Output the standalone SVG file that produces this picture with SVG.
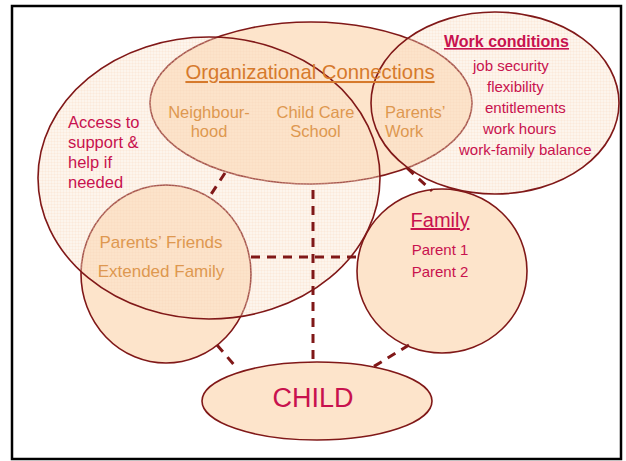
<svg xmlns="http://www.w3.org/2000/svg" width="626" height="461" viewBox="0 0 626 461">
<style>
.solid{fill:#FDE4CB;stroke:#801818;stroke-width:1.6}
.pat{fill:url(#grid);stroke:#801818;stroke-width:1.6}
.dash{stroke:#801818;stroke-width:3;stroke-dasharray:9 7;fill:none}
text{font-family:"Liberation Sans",Arial,sans-serif}
.red{fill:#C8124E}
.org{fill:#D67A2C}
.lor{fill:#DE9850}
</style>
<defs>
<pattern id="grid" width="3" height="3" patternUnits="userSpaceOnUse">
<rect width="3" height="3" fill="#FBE1C8" fill-opacity="0.32"/>
<path d="M0 0.5H3M0.5 0V3" stroke="#F7D3B5" stroke-width="0.5" stroke-opacity="0.35"/>
</pattern>
</defs>
<rect x="12" y="6" width="609" height="453" fill="#fff" stroke="#000" stroke-width="2.5"/>
<g id="org-connections"><ellipse class="solid" cx="311" cy="103" rx="161" ry="81"/></g>
<g id="friends"><ellipse class="solid" cx="166" cy="274" rx="85" ry="89"/></g>
<g id="family"><ellipse class="solid" cx="442" cy="271" rx="85" ry="82"/></g>
<g id="child"><ellipse class="solid" cx="317" cy="401" rx="115" ry="39"/></g>
<g id="access"><ellipse class="pat" cx="209" cy="178" rx="171" ry="141"/></g>
<g id="work-conditions"><ellipse class="pat" cx="495" cy="103" rx="124" ry="91"/></g>
<g id="connectors">
<line class="dash" x1="225" y1="173" x2="208" y2="199"/>
<line class="dash" x1="407" y1="168" x2="432" y2="191"/>
<line class="dash" x1="313" y1="190" x2="313" y2="360"/>
<line class="dash" x1="251" y1="257" x2="356" y2="257"/>
<line class="dash" x1="217" y1="345" x2="236" y2="367"/>
<line class="dash" x1="409" y1="345" x2="373" y2="367"/>
</g>
<g id="org-text">
<text class="org" x="310" y="79" font-size="20.3" text-anchor="middle" text-decoration="underline">Organizational Connections</text>
<text class="lor" x="209" y="118" font-size="16.5" text-anchor="middle">Neighbour-</text>
<text class="lor" x="209" y="137" font-size="16.5" text-anchor="middle">hood</text>
<text class="lor" x="315.5" y="118" font-size="16.5" text-anchor="middle">Child Care</text>
<text class="lor" x="315.5" y="137" font-size="16.5" text-anchor="middle">School</text>
<text class="lor" x="385" y="118" font-size="16.5">Parents’</text>
<text class="lor" x="385" y="137" font-size="16.5">Work</text>
</g>
<g id="work-text">
<text class="red" x="506.5" y="47" font-size="16" font-weight="bold" text-anchor="middle" text-decoration="underline">Work conditions</text>
<text class="red" x="473" y="71" font-size="15">job security</text>
<text class="red" x="487" y="92" font-size="15">flexibility</text>
<text class="red" x="485" y="113" font-size="15">entitlements</text>
<text class="red" x="483" y="134" font-size="15">work hours</text>
<text class="red" x="459" y="155" font-size="15">work-family balance</text>
</g>
<g id="access-text">
<text class="red" x="68" y="128" font-size="16.5">Access to</text>
<text class="red" x="68" y="148" font-size="16.5">support &amp;</text>
<text class="red" x="68" y="168" font-size="16.5">help if</text>
<text class="red" x="68" y="188" font-size="16.5">needed</text>
</g>
<g id="friends-text">
<text class="lor" x="161" y="248" font-size="17" text-anchor="middle">Parents’ Friends</text>
<text class="lor" x="161" y="277" font-size="17" text-anchor="middle">Extended Family</text>
</g>
<g id="family-text">
<text class="red" x="440" y="227" font-size="20" text-anchor="middle" text-decoration="underline">Family</text>
<text class="red" x="440" y="255" font-size="15" text-anchor="middle">Parent 1</text>
<text class="red" x="440" y="277" font-size="15" text-anchor="middle">Parent 2</text>
</g>
<g id="child-text">
<text class="red" x="313" y="407" font-size="27" text-anchor="middle">CHILD</text>
</g>
</svg>
